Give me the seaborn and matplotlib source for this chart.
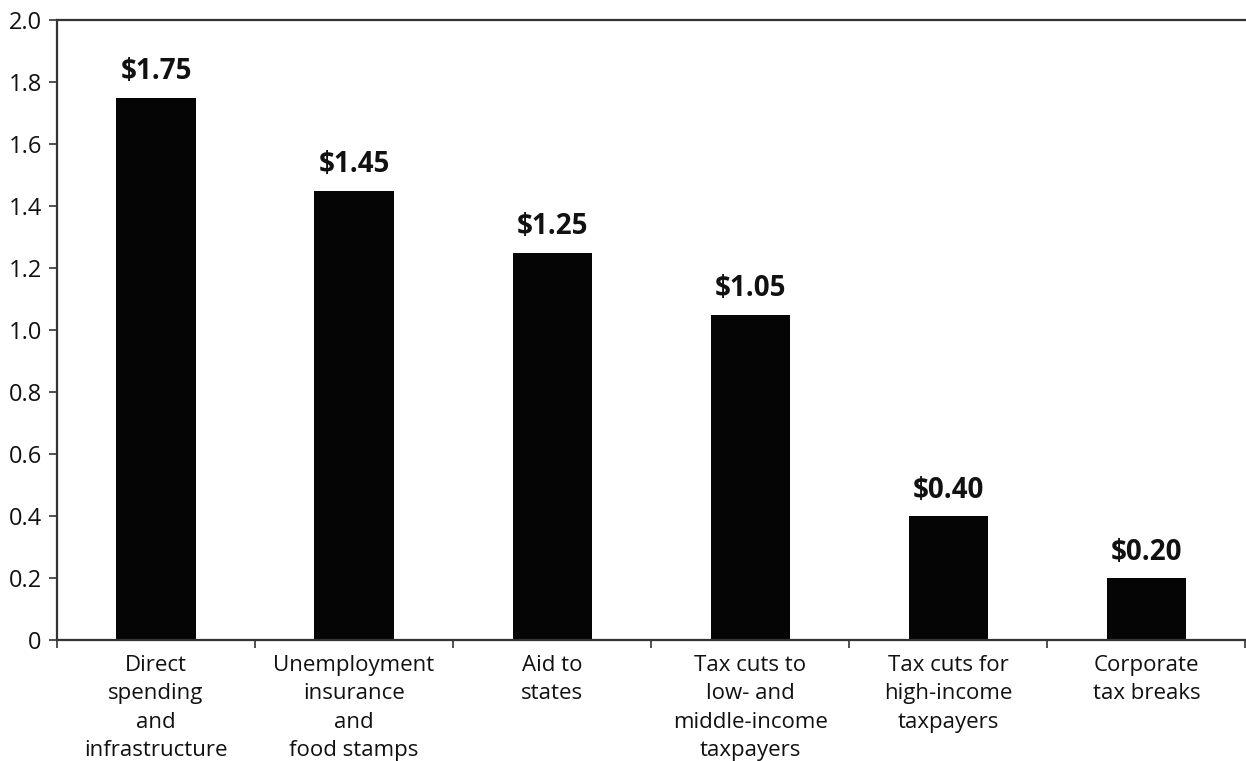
import matplotlib
matplotlib.use("Agg")
import matplotlib.pyplot as plt
import seaborn as sns
import pandas as pd
import numpy as np
from matplotlib.ticker import FixedLocator

categories = ["Direct\nspending\nand\ninfrastructure",
              "Unemployment\ninsurance\nand\nfood stamps",
              "Aid to\nstates",
              "Tax cuts to\nlow- and\nmiddle-income\ntaxpayers",
              "Tax cuts for\nhigh-income\ntaxpayers",
              "Corporate\ntax breaks"]
values = [1.75, 1.45, 1.25, 1.05, 0.40, 0.20]
value_labels = ["$1.75", "$1.45", "$1.25", "$1.05", "$0.40", "$0.20"]
yticks = [0, 0.2, 0.4, 0.6, 0.8, 1.0, 1.2, 1.4, 1.6, 1.8, 2.0]
ytick_labels = ["0", "0.2", "0.4", "0.6", "0.8", "1.0", "1.2", "1.4", "1.6", "1.8", "2.0"]

sns.set_style("white")
plt.rcParams['font.family'] = ['Open Sans', 'DejaVu Sans']

df = pd.DataFrame({"cat": categories, "val": values})

fig = plt.figure(figsize=(12.46, 7.61), dpi=100)
ax = fig.add_axes([57/1246, 1 - 640/761, 1 - 57/1246 - 0.0005, (640 - 20)/761])

sns.barplot(data=df, x="cat", y="val", color="#050505", width=0.4,
            saturation=1, ax=ax, edgecolor="none")

ax.set_xlim(-0.5, 5.5)
ax.set_ylim(0, 2.0)
ax.set_yticks(yticks)
ax.set_yticklabels(ytick_labels, fontsize=17, color="#111111")
ax.set_xticks(range(len(categories)))
ax.set_xticklabels(categories, fontsize=16, color="#111111", linespacing=1.45)
ax.xaxis.set_minor_locator(FixedLocator(np.arange(-0.5, 5.6, 1.0)))
ax.tick_params(axis="x", which="major", length=0, pad=11)
ax.tick_params(axis="x", which="minor", length=6, width=1.2, color="#333333", direction="out", bottom=True)
ax.tick_params(axis="y", which="major", length=6, width=1.2, color="#333333", direction="out", left=True, pad=5)
ax.set_xlabel("")
ax.set_ylabel("")

for s in ["top", "left", "bottom"]:
    ax.spines[s].set_visible(True)
    ax.spines[s].set_color("#333333")
    ax.spines[s].set_linewidth(1.6)
ax.spines["right"].set_visible(False)

for i, (v, lab) in enumerate(zip(values, value_labels)):
    ax.annotate(lab, (i, v), xytext=(0, 8), textcoords="offset points",
                ha="center", va="bottom", fontsize=20, fontweight="bold", color="#111111")

fig.savefig("out.png", dpi=100)
